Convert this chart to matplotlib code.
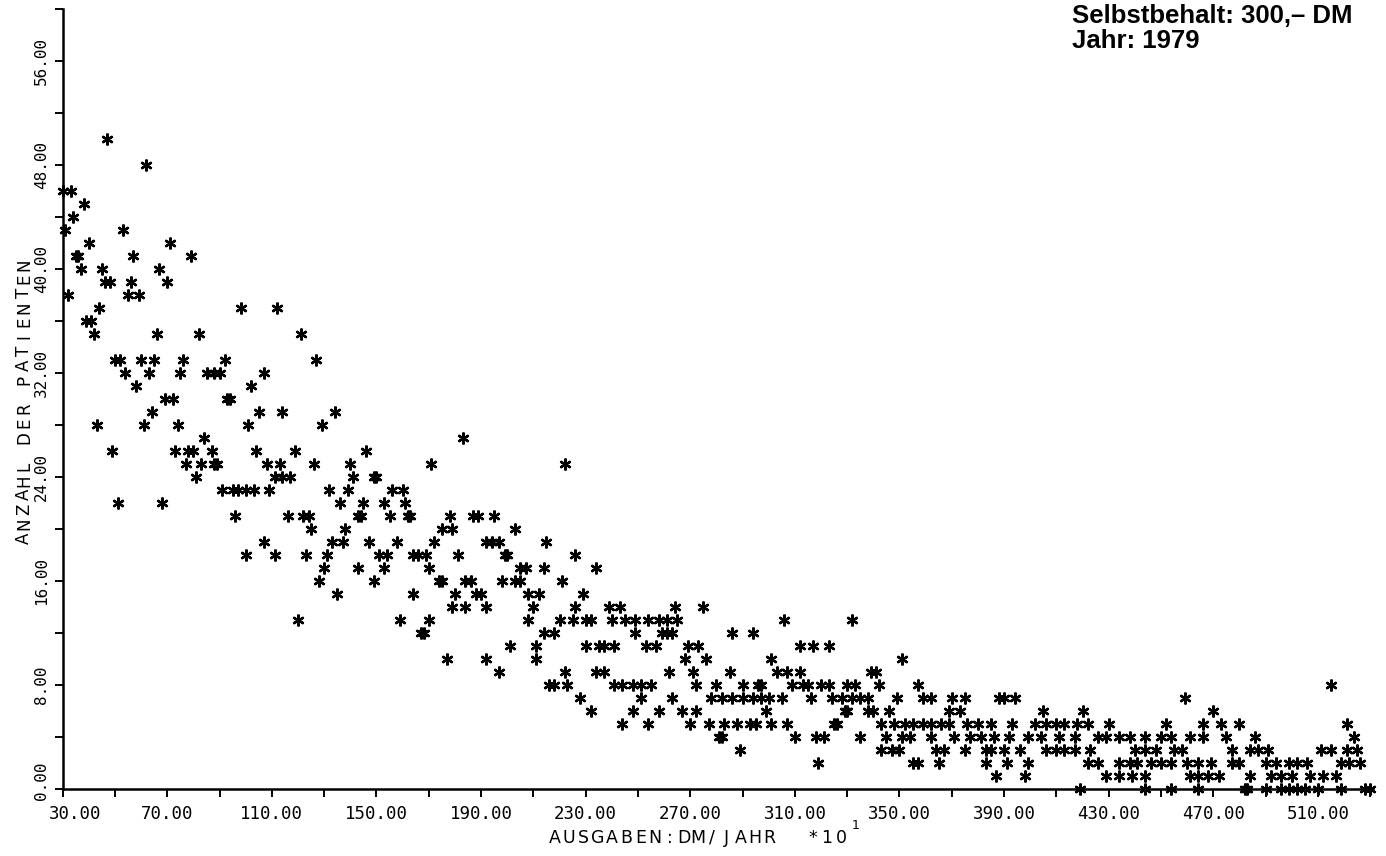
import matplotlib
matplotlib.use("Agg")
import matplotlib.pyplot as plt
import matplotlib.transforms as mtransforms
from matplotlib.ticker import FixedLocator, FormatStrFormatter

zeilen_y = [50, 48, 46, 45, 44, 43, 42, 41, 40, 39, 38, 37, 36, 35, 33, 32, 31, 30, 29,
            28, 27, 26, 25, 24, 23, 22, 21, 20, 19, 18, 17, 16, 15, 14, 13, 12, 11, 10,
            9, 8, 7, 6, 5, 4, 3, 2, 1, 0]
zeilen_x = [
    [47],
    [62],
    [30, 33],
    [38],
    [34],
    [31, 53],
    [40, 71],
    [35, 36, 57, 79],
    [37, 45, 67],
    [46, 48, 56, 70],
    [32, 55, 59],
    [44, 98, 112],
    [39, 41],
    [42, 66, 82, 121],
    [50, 52, 60, 65, 76, 92, 127],
    [54, 63, 75, 85, 88, 90, 107],
    [58, 102],
    [69, 72, 93, 94],
    [64, 105, 114, 134],
    [43, 61, 74, 101, 129],
    [84, 183],
    [49, 73, 78, 80, 87, 104, 119, 146],
    [77, 83, 88, 89, 108, 113, 126, 140, 171, 222],
    [81, 111, 114, 117, 141, 149, 150],
    [91, 95, 97, 100, 103, 109, 132, 139, 156, 160],
    [51, 68, 136, 145, 153, 161],
    [96, 116, 122, 124, 143, 144, 155, 162, 163, 178, 187, 189, 195],
    [125, 138, 175, 179, 203],
    [107, 133, 137, 147, 158, 172, 192, 194, 197, 215],
    [100, 111, 123, 131, 151, 154, 164, 166, 169, 181, 199, 200, 226],
    [130, 143, 153, 170, 205, 207, 214, 234],
    [128, 149, 174, 175, 184, 186, 198, 203, 205, 221],
    [135, 164, 180, 188, 190, 208, 212, 229],
    [179, 184, 192, 210, 226, 239, 243, 264, 275],
    [120, 159, 170, 208, 220, 225, 230, 232, 240, 245, 249, 254, 258, 261, 265, 306, 332],
    [167, 168, 214, 218, 249, 259, 261, 263, 286, 294],
    [201, 211, 230, 235, 237, 241, 253, 257, 269, 273, 312, 317, 323],
    [177, 192, 211, 268, 276, 301, 351],
    [197, 222, 234, 237, 262, 271, 285, 303, 307, 312, 339, 341],
    [216, 218, 223, 241, 244, 248, 251, 255, 272, 280, 290, 296, 297, 309, 313, 315,
     320, 323, 330, 333, 342, 357, 515],
    [228, 251, 263, 278, 282, 286, 290, 294, 297, 300, 305, 316, 324, 328, 332, 335,
     338, 349, 359, 362, 370, 375, 388, 390, 394, 459],
    [232, 248, 258, 267, 272, 299, 329, 330, 338, 340, 346, 369, 373, 405, 420, 470],
    [244, 254, 270, 277, 283, 288, 293, 295, 301, 307, 325, 326, 343, 348, 352, 355,
     359, 362, 366, 369, 376, 380, 385, 393, 402, 406, 410, 413, 418, 422, 430, 452,
     466, 473, 480, 521],
    [281, 282, 310, 318, 321, 335, 345, 351, 354, 362, 371, 377, 381, 386, 392, 399,
     404, 411, 417, 426, 429, 434, 438, 444, 450, 454, 461, 466, 475, 486, 524],
    [289, 343, 347, 350, 364, 367, 375, 383, 385, 390, 396, 406, 410, 413, 417, 423,
     440, 444, 448, 455, 458, 477, 484, 487, 491, 511, 515, 521, 525],
    [319, 355, 357, 365, 383, 391, 399, 422, 426, 434, 438, 441, 446, 450, 454, 460,
     464, 469, 477, 480, 490, 494, 499, 502, 506, 519, 522, 526],
    [387, 398, 429, 434, 439, 444, 461, 464, 468, 472, 484, 492, 496, 500, 507, 512, 517],
    [419, 444, 454, 464, 482, 483, 490, 496, 499, 502, 505, 510, 519, 528, 530],
]

x_major = [30, 70, 110, 150, 190, 230, 270, 310, 350, 390, 430, 470, 510]
x_minor = [50, 90, 130, 170, 210, 250, 290, 330, 370, 410, 450, 490, 530]
y_major = [0, 8, 16, 24, 32, 40, 48, 56]
y_minor = [4, 12, 20, 28, 36, 44, 52, 60]

xs = []
ys = []
for yv, reihe in zip(zeilen_y, zeilen_x):
    for xv in reihe:
        xs.append(xv)
        ys.append(yv)

W, H = 1386, 856
fig = plt.figure(figsize=(W / 100, H / 100), dpi=100)
ax = fig.add_axes([62.7 / W, 67 / H, (1372.8 - 62.7) / W, 780 / H])

ax.plot(xs, ys, ls='none', marker=(6, 2, 0), ms=8.5, mew=1.7, color='black', clip_on=False)

ax.set_xlim(30, 531)
ax.set_ylim(0, 60)
for s in ['top', 'right']:
    ax.spines[s].set_visible(False)
for s in ['left', 'bottom']:
    ax.spines[s].set_linewidth(1.8)

ax.xaxis.set_major_locator(FixedLocator(x_major))
ax.xaxis.set_minor_locator(FixedLocator(x_minor))
ax.yaxis.set_major_locator(FixedLocator(y_major))
ax.yaxis.set_minor_locator(FixedLocator(y_minor))
ax.xaxis.set_major_formatter(FormatStrFormatter('%.2f'))
ax.yaxis.set_major_formatter(FormatStrFormatter('%.2f'))
ax.tick_params(which='both', direction='out', length=5.8, width=1.4, color='black')
ax.tick_params(axis='x', pad=5.5)
ax.tick_params(axis='y', pad=4.0, labelrotation=90)
for lab in ax.get_xticklabels():
    lab.set_family('DejaVu Sans Mono')
    lab.set_fontsize(12.5)
for lab in ax.get_yticklabels():
    lab.set_family('DejaVu Sans Mono')
    lab.set_fontsize(11.5)
    lab.set_verticalalignment('center')

fig.canvas.draw()
# erste Beschriftungen leicht verschoben wie im Original
xl0 = ax.xaxis.get_major_ticks()[0].label1
xl0.set_transform(xl0.get_transform() + mtransforms.ScaledTranslation(0.12, 0, fig.dpi_scale_trans))
yl0 = ax.yaxis.get_major_ticks()[0].label1
yl0.set_transform(yl0.get_transform() + mtransforms.ScaledTranslation(0, 0.08, fig.dpi_scale_trans))


def gesperrt(text, x0, y0, schritt, rot=0, size=12.5):
    '''Text zeichenweise mit festem Abstand (Pixel) setzen'''
    for i, ch in enumerate(text):
        if rot == 0:
            px, py = x0 + i * schritt, y0
        else:
            px, py = x0, y0 - i * schritt
        fig.text(px / W, 1 - py / H, ch, rotation=rot, rotation_mode='anchor',
                 ha='center', va='baseline', fontsize=size, family='DejaVu Sans')


gesperrt("AUSGABEN:DM/JAHR  *10", 555, 843, 14.3)
fig.text(856 / W, 1 - 829 / H, "1", ha='center', va='baseline', fontsize=9, family='DejaVu Sans')
gesperrt("ANZAHL DER PATIENTEN", 29, 538, 14.4, rot=90, size=12)

fig.text(1072 / W, 1 - 23.3 / H, "Selbstbehalt: 300,\u2013 DM", ha='left', va='baseline',
         fontsize=18.5, fontweight='bold', family='Liberation Sans')
fig.text(1072 / W, 1 - 48.3 / H, "Jahr: 1979", ha='left', va='baseline',
         fontsize=18.5, fontweight='bold', family='Liberation Sans')

fig.savefig('out.png', dpi=100)
print('end')
